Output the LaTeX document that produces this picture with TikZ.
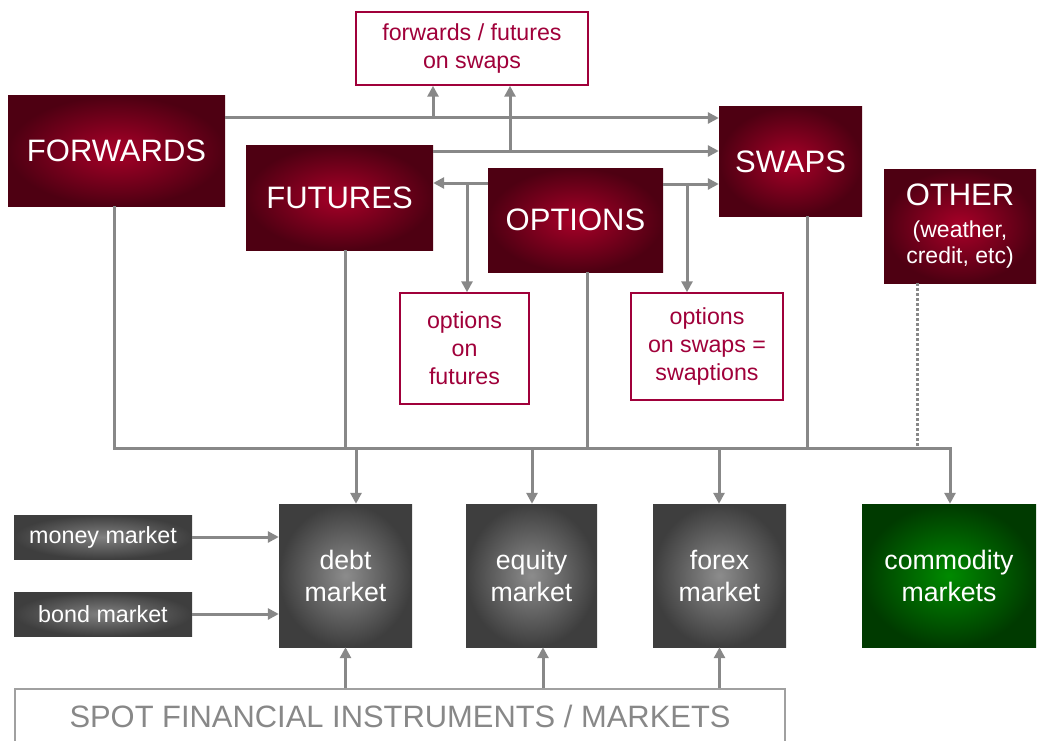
\documentclass[tikz,border=0pt]{standalone}
\usepackage{fontspec}
\setmainfont{Liberation Sans}
\usetikzlibrary{arrows.meta}

\definecolor{redin}{RGB}{168,0,40}
\definecolor{redout}{RGB}{78,0,18}
\definecolor{crim}{RGB}{160,0,58}
\definecolor{grayin}{RGB}{140,140,140}
\definecolor{grayout}{RGB}{62,62,62}
\definecolor{greenin}{RGB}{0,138,0}
\definecolor{greenout}{RGB}{0,58,0}
\definecolor{lgray}{RGB}{136,136,136}

\newcommand{\smalltxt}{\fontsize{23}{26}\selectfont}

\tikzset{
  deriv/.style={inner color=redin, outer color=redout, text=white, align=center,
    font=\fontsize{31}{35}\selectfont},
  combo/.style={draw=crim, line width=1.5pt, fill=white, text=crim, align=center,
    font=\fontsize{23.2}{28}\selectfont},
  mkt/.style={inner color=grayin, outer color=grayout, text=white, align=center,
    font=\fontsize{26.7}{32}\selectfont},
  feed/.style={inner color=grayin!85!grayout, outer color=grayout, text=white,
    font=\fontsize{23.3}{27}\selectfont},
  link/.style={draw=lgray, line width=3pt},
  arr/.style={link, -{Triangle[length=11pt,width=11pt]}},
}

\begin{document}
\begin{tikzpicture}[x=1pt,y=-1pt]
  \useasboundingbox (0,0) rectangle (1038,741);

  % derivatives
  \node (fwd) at (116.5,151) [deriv, minimum width=217pt, minimum height=110pt]{FORWARDS};
  \node (fut) at (339.5,197.5) [deriv, minimum width=187pt, minimum height=105pt]{FUTURES};
  \node (opt) at (575.5,220) [deriv, minimum width=175pt, minimum height=104pt]{OPTIONS};
  \node (swp) at (790.5,161.5) [deriv, minimum width=143pt, minimum height=109pt]{SWAPS};
  \node (oth) at (960,226) [deriv, minimum width=152pt, minimum height=114pt]
    {OTHER\\[-3pt]{\smalltxt (weather,}\\[-9pt]{\smalltxt credit, etc)}};

  \node (fos) at (472,48.5) [combo, minimum width=232pt, minimum height=73pt]{forwards / futures\\on swaps};
  \node (oof) at (464.5,348.5) [combo, minimum width=129pt, minimum height=111pt]{options\\on\\futures};
  \node (oos) at (707,346.5) [combo, minimum width=152pt, minimum height=107pt]{options\\on swaps =\\swaptions};

  % markets
  \node (money) at (103,537) [feed, minimum width=178pt, minimum height=44pt]{money market};
  \node (bond) at (103,614) [feed, minimum width=178pt, minimum height=44pt]{bond market};
  \node (debt) at (345.5,575.5) [mkt, minimum width=133pt, minimum height=143pt]{debt\\market};
  \node (eq) at (531.5,575.5) [mkt, minimum width=131pt, minimum height=143pt]{equity\\market};
  \node (fx) at (719.5,575.5) [mkt, minimum width=133pt, minimum height=143pt]{forex\\market};
  \node (com) at (949,575.5) [mkt, inner color=greenin, outer color=greenout,
    minimum width=174pt, minimum height=143pt]{commodity\\markets};

  \node (spot) at (400,716.5) [draw=lgray!80, line width=2pt, text=lgray,
    font=\fontsize{30.9}{34}\selectfont, minimum width=770pt, minimum height=55pt]
    {SPOT FINANCIAL INSTRUMENTS / MARKETS};

  \coordinate (j1) at (433,118);
  \coordinate (j2) at (510,151);
  \coordinate (j3) at (467,183);
  \coordinate (j4) at (687,184);
  \coordinate (bus) at (950,448);
  \coordinate (bdebt) at (356,448);
  \coordinate (beq) at (532,448);
  \coordinate (bfx) at (719,448);

  \draw[arr] (fwd.east |- j1) -- (swp.west |- j1);
  \draw[arr] (j1) -- (j1 |- fos.south);
  \draw[arr] (fut.east |- j2) -- (swp.west |- j2);
  \draw[arr] (j2) -- (j2 |- fos.south);

  \draw[arr] (opt.west |- j3) -- (fut.east |- j3);
  \draw[arr] (j3) -- (j3 |- oof.north);
  \draw[arr] (opt.east |- j4) -- (swp.west |- j4);
  \draw[arr] (j4) -- (j4 |- oos.north);

  % bus to the markets
  \draw[arr] ([xshift=-2.5pt]fwd.south) |- (bus) -- (bus |- com.north);
  \draw[link] ([xshift=5.5pt]fut.south) |- (bus);
  \draw[link] ([xshift=11.5pt]opt.south) |- (bus);
  \draw[link] ([xshift=16.5pt]swp.south) |- (bus);
  \draw[link, dash pattern=on 3pt off 2pt] ([xshift=-43pt]oth.south) -- ([xshift=-43pt]oth.south |- bus);

  \draw[arr] (bdebt) -- (bdebt |- debt.north);
  \draw[arr] (beq) -- (beq |- eq.north);
  \draw[arr] (bfx) -- (bfx |- fx.north);

  \draw[arr] (money) -- (money -| debt.west);
  \draw[arr] (bond) -- (bond -| debt.west);

  \draw[arr] (spot.north -| debt.south) -- (debt.south);
  \draw[arr] ([xshift=11.5pt]eq.south |- spot.north) -- ([xshift=11.5pt]eq.south);
  \draw[arr] (spot.north -| fx.south) -- (fx.south);

\end{tikzpicture}
\end{document}
